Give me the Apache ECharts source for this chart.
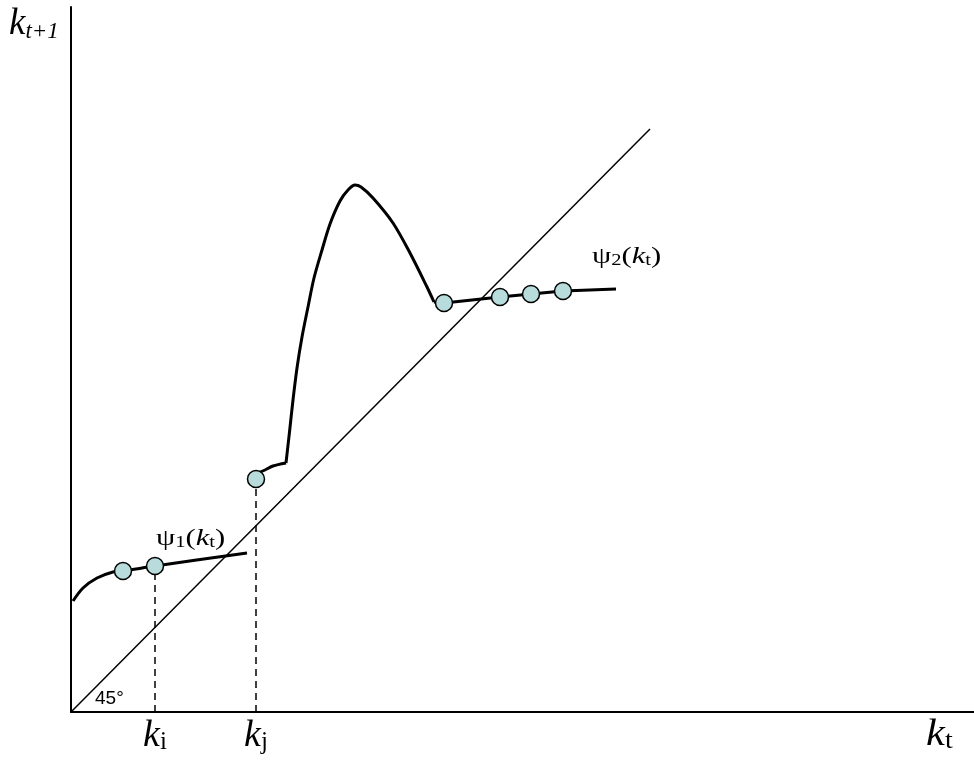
<!DOCTYPE html>
<html><head><meta charset="utf-8">
<script src="https://cdn.jsdelivr.net/npm/echarts@6/dist/echarts.min.js"></script>
<style>html,body{margin:0;padding:0;background:#fff}#c{width:974px;height:761px}</style>
</head><body><div id="c"></div>
<script>
// ---- data (k_t on x, k_{t+1} on y, in drawing units) ----
const xMax = 903, yMax = 705;
const diagonal = [[0, 0], [579, 583]];
const psi1Curve = [[2, 111], [12, 124], [26, 134], [42, 140], [52, 141], [84, 146], [176, 159]];
const jumpStub = [[177, 235], [194, 242], [202, 246], [215, 249]];
const hump = [[215, 249], [218.5, 280], [222, 312], [226, 344], [231, 375], [237, 405], [243, 434],
  [251, 462], [259, 488], [269, 511], [277, 522], [284, 527], [290, 525], [302, 514],
  [322, 489], [339, 459], [356, 425], [363, 410]];
const psi2Curve = [[363, 410], [373, 409], [429, 415], [460, 418], [492, 421], [545, 423]];
const psi1Points = [[52, 141], [84, 146]];
const jumpPoint = [[185, 233]];
const psi2Points = [[373, 409], [429, 415], [460, 418], [492, 421]];
const kiLine = [[84, 0], [84, 146]];
const kjLine = [[185, 0], [185, 233]];
const tickMarks = [[84, 0, 'i'], [185, 0, 'j']];

const serif = 'Liberation Serif';
const sub = (size, lh, italic) => ({ fontFamily: serif, fontSize: size, lineHeight: lh, verticalAlign: 'bottom', fontStyle: italic ? 'italic' : 'normal', fill: '#000', color: '#000' });
const main = (size, italic) => ({ fontFamily: serif, fontSize: size, lineHeight: size, fontStyle: italic ? 'italic' : 'normal', color: '#000', fill: '#000' });

const chart = echarts.init(document.getElementById('c'), null, { renderer: 'canvas' });
const solid = (data, w, sm) => ({
  type: 'line', data, symbol: 'none', smooth: sm, silent: true,
  lineStyle: { color: '#000', width: w }, z: 3
});
const dashed = (data) => ({
  type: 'line', data, symbol: 'none', silent: true,
  lineStyle: { color: '#000', width: 1.5, type: [7, 5] }, z: 2
});
const dots = (data) => ({
  type: 'scatter', data, symbol: 'circle', symbolSize: 17, silent: true,
  itemStyle: { color: '#b8dcdc', borderColor: '#000', borderWidth: 1.5, opacity: 1 }, z: 5
});

chart.setOption({
  animation: false,
  backgroundColor: '#fff',
  grid: { left: 71, right: 0, top: 7, bottom: 49, containLabel: false },
  xAxis: {
    type: 'value', min: 0, max: xMax,
    axisLine: { show: true, onZero: false, lineStyle: { color: '#000', width: 2 } },
    axisTick: { show: false }, axisLabel: { show: false }, splitLine: { show: false }
  },
  yAxis: {
    type: 'value', min: 0, max: yMax,
    axisLine: { show: true, onZero: false, lineStyle: { color: '#000', width: 2 } },
    axisTick: { show: false }, axisLabel: { show: false }, splitLine: { show: false }
  },
  series: [
    { type: 'line', data: diagonal, symbol: 'none', silent: true, lineStyle: { color: '#000', width: 1.5 }, z: 2 },
    dashed(kiLine),
    dashed(kjLine),
    solid(psi1Curve, 3, 0.3),
    solid(jumpStub, 3, 0.3),
    solid(hump, 3, 0.3),
    solid(psi2Curve, 3, false),
    dots(psi1Points),
    dots(jumpPoint),
    dots(psi2Points),
    {
      type: 'scatter', data: tickMarks, symbolSize: 0, silent: true, z: 6,
      itemStyle: { color: '#000', opacity: 1 },
      label: {
        show: true, position: 'bottom', distance: 5, color: '#000', opacity: 1,
        formatter: p => '{k|k}{s|' + p.data[2] + '}',
        rich: { k: main(38, true), s: sub(25, 25) }
      }
    }
  ],
  graphic: [
    { type: 'text', left: 9, top: 6, style: { text: '{k|k}{s|t+1}', rich: { k: main(37, true), s: sub(23, 23, true) }, fill: '#000' } },
    { type: 'text', left: 926, top: 716, scaleX: 1.12, style: { text: '{k|k}{s|t}', rich: { k: main(38, true), s: sub(25, 25) }, fill: '#000' } },
    { type: 'text', left: 156, top: 527, scaleX: 1.28, style: { text: '{p|ψ}{n|1}{p|(}{k|k}{n|t}{p|)}', rich: { p: main(24, false), k: main(24, true), n: sub(16, 16) }, fill: '#000' } },
    { type: 'text', left: 592, top: 245, scaleX: 1.28, style: { text: '{p|ψ}{n|2}{p|(}{k|k}{n|t}{p|)}', rich: { p: main(24, false), k: main(24, true), n: sub(16, 16) }, fill: '#000' } },
    { type: 'text', left: 95, top: 689, style: { text: '45°', fontFamily: 'Liberation Sans', fontSize: 19, fill: '#000' } }
  ]
});
</script>
</body></html>
